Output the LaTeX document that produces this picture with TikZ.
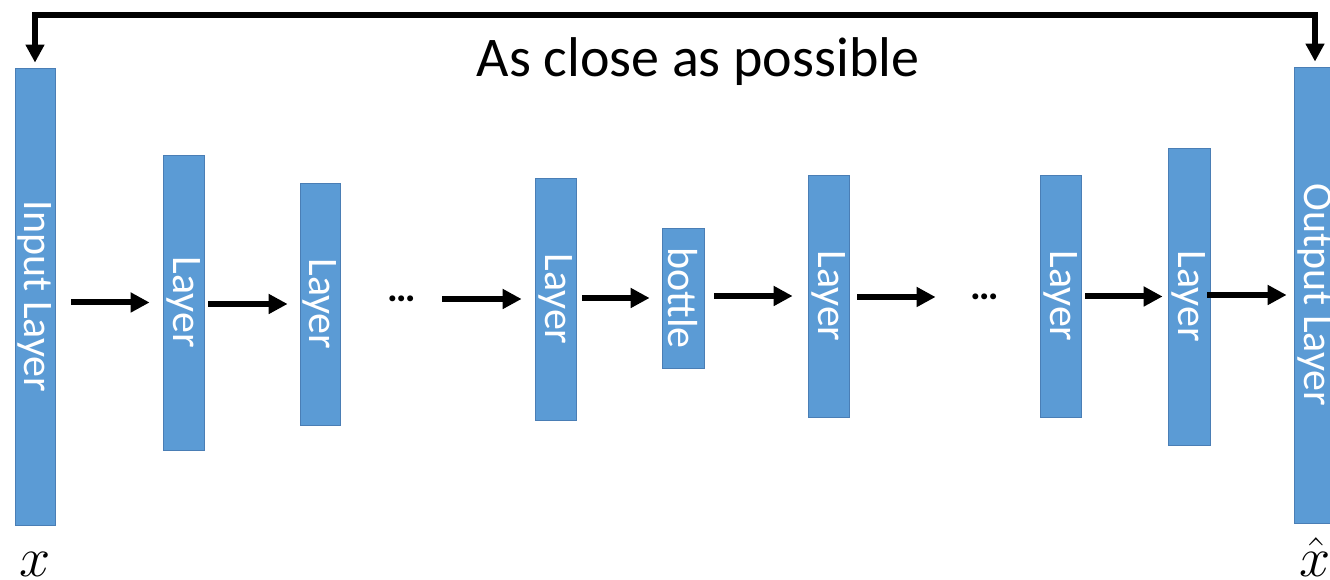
\RequirePackage{fix-cm}
\documentclass[tikz,border=0pt]{standalone}
\usepackage{amsmath}
\usepackage{fontspec}
\setmainfont{Carlito}
\usepackage{tikz}
\usetikzlibrary{arrows.meta,positioning}

\definecolor{barblue}{HTML}{5B9BD5}
\definecolor{baredge}{HTML}{4A7EB5}

\tikzset{
	bar/.style={draw=baredge, fill=barblue, line width=0.8pt, inner sep=0pt, minimum width=41pt},
	tag/.style={rotate=-90, text=white, font=\fontsize{42}{46}\selectfont},
	flow/.style={line width=6pt, -{Triangle[length=19pt,width=19pt]}},
	fb/.style={line width=5.5pt, {Triangle[length=18pt,width=18pt]}-{Triangle[length=18pt,width=18pt]}},
	etc/.style={inner sep=0pt, text height=6pt, text depth=0pt, font=\fontsize{40}{44}\selectfont\bfseries}
}

\begin{document}
\begin{tikzpicture}[x=1pt, y=1pt]
\useasboundingbox (0,0) rectangle (1330,580);

\node[bar, minimum width=40pt, minimum height=457pt, label={[tag]center:Input Layer}] (inp) at (35,283.5) {};
\node[bar, minimum height=295pt, label={[tag]center:Layer}] (l1) at (183.5,277.5) {};
\node[bar, minimum width=40pt, minimum height=242pt, label={[tag]center:Layer}] (l2) at (320,276) {};
\node[etc] (d1) at (402,281) {…};
\node[bar, minimum height=242pt, label={[tag]center:Layer}] (l3) at (555.5,281) {};
\node[bar, minimum width=42pt, minimum height=140pt, label={[tag]center:bottle}] (bn) at (683,282) {};
\node[bar, minimum height=242pt, label={[tag]center:Layer}] (l4) at (828.5,284) {};
\node[etc] (d2) at (985,283) {…};
\node[bar, minimum height=242pt, label={[tag]center:Layer}] (l5) at (1060.5,284) {};
\node[bar, minimum width=42pt, minimum height=297pt, label={[tag]center:Layer}] (l6) at (1189,283.5) {};
\node[bar, minimum width=42pt, minimum height=456pt, label={[tag]center:Output Layer}] (outp) at (1315,285) {};

\node[anchor=base, font=\fontsize{56}{60}\selectfont] (goal) at (698,503) {As close as possible};
\coordinate (top) at (676,565);

\node[below=27pt of inp, inner sep=0pt, font=\fontsize{56}{60}\selectfont] (xl) {$x$};
\node[anchor=base, inner sep=0pt, font=\fontsize{56}{60}\selectfont] (xh) at (outp |- xl.base) {$\hat{x}$};

\foreach \a/\b/\s/\e in {inp/l1/16/13, l1/l2/4/12, d1/l3/26/13, l3/bn/6/12, bn/l4/10/15, l4/d2/8/35, l5/l6/4/5, l6/outp/-3/7}
	\draw[flow, shorten <=\s pt, shorten >=\e pt] (\a.east |- \b) -- (\b.west);

\draw[fb, shorten <=5pt, shorten >=5pt] (inp.north) |- (top) -| (outp.north);
\end{tikzpicture}
\end{document}
